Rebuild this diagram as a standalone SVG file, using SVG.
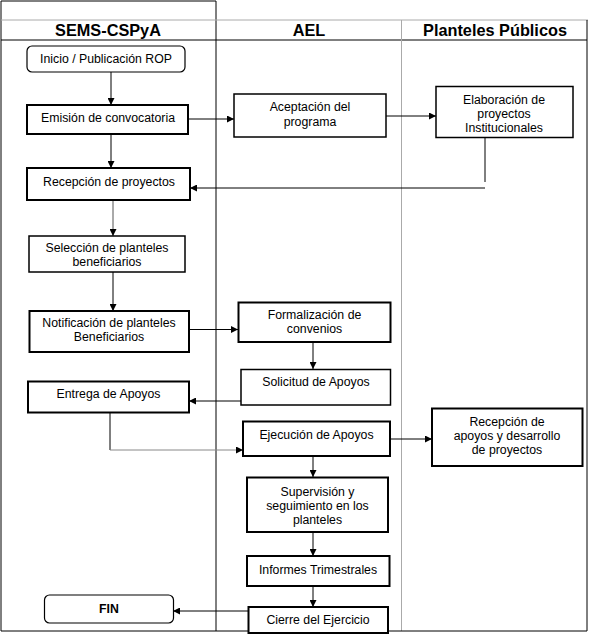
<svg xmlns="http://www.w3.org/2000/svg" width="589" height="636" viewBox="0 0 589 636">
<defs>
<style>
text{font-family:"Liberation Sans",Arial,sans-serif;font-size:12.3px;fill:#000;text-anchor:middle}
.hd{font-size:16.3px;font-weight:bold}
.fin{font-weight:bold}
.box{fill:#fff;stroke:#000}
.th{stroke-width:2}
.md{stroke-width:1.5}
.tn{stroke-width:1.2}
.c{fill:none;stroke:#000;stroke-width:1}
.g{stroke:#888}
.lane{fill:none;stroke:#000;stroke-width:1}
.lg{stroke:#aaa}
</style>
<marker id="ar" markerUnits="userSpaceOnUse" markerWidth="8" markerHeight="7" refX="7" refY="3.5" orient="auto">
<path d="M0,0 L7,3.5 L0,7 z" fill="#000"/>
</marker>
</defs>
<rect width="589" height="636" fill="#fff"/>
<g id="lanes">
<path class="lane" d="M1,631 V1 H216 V631"/>
<path class="lane lg" d="M1,20 H588" stroke-width="2"/>
<path class="lane" d="M1,40 H587"/>
<path class="lane lg" d="M401.5,20 V631"/>
<path class="lane" d="M587,20 V631 M1,631 H587"/>
<text class="hd" x="108" y="36">SEMS-CSPyA</text>
<text class="hd" x="309" y="36">AEL</text>
<text class="hd" x="495" y="36">Planteles Públicos</text>
</g>
<g id="connectors">
<path class="c" d="M111,72 V105" marker-end="url(#ar)"/>
<path class="c" d="M111,134 V168" marker-end="url(#ar)"/>
<path class="c" d="M188,119 H234" marker-end="url(#ar)"/>
<path class="c" d="M386,116 H436" marker-end="url(#ar)"/>
<path class="c" d="M485,137 V182"/>
<path class="c" d="M485,188 H190" marker-end="url(#ar)"/>
<path class="c" d="M113,200 V236" style="stroke:#555" marker-end="url(#ar)"/>
<path class="c" d="M113,272 V311" marker-end="url(#ar)"/>
<path class="c" d="M189,329.5 H238" marker-end="url(#ar)"/>
<path class="c" d="M313,342 V369" marker-end="url(#ar)"/>
<path class="c" d="M241,401 H189" marker-end="url(#ar)"/>
<path class="c" d="M110,413 V450"/>
<path class="c g" d="M110,450 H243" marker-end="url(#ar)"/>
<path class="c" d="M390,439 H432" marker-end="url(#ar)"/>
<path class="c" d="M313,456 V477" marker-end="url(#ar)"/>
<path class="c" d="M313,532 V556" marker-end="url(#ar)"/>
<path class="c" d="M313,586 V607" marker-end="url(#ar)"/>
<path class="c" d="M249,611 H173" marker-end="url(#ar)"/>
</g>
<g id="inicio">
<rect class="box tn" x="27" y="46" width="158" height="26" rx="5"/>
<text x="106" y="63">Inicio / Publicación ROP</text>
</g>
<g id="emision">
<rect class="box th" x="27" y="105" width="161" height="29"/>
<text x="108" y="122">Emisión de convocatoria</text>
</g>
<g id="recepcion">
<rect class="box th" x="27" y="168" width="163" height="32"/>
<text x="109" y="186">Recepción de proyectos</text>
</g>
<g id="aceptacion">
<rect class="box md" x="234" y="94" width="152" height="43"/>
<text x="310" y="111">Aceptación del</text>
<text x="310" y="126">programa</text>
</g>
<g id="elaboracion">
<rect class="box md" x="436" y="86.5" width="137" height="51"/>
<text x="504" y="104">Elaboración de</text>
<text x="504" y="118">proyectos</text>
<text x="504" y="132">Institucionales</text>
</g>
<g id="seleccion">
<rect class="box md" x="29" y="236" width="156" height="36"/>
<text x="107" y="252">Selección de planteles</text>
<text x="107" y="266">beneficiarios</text>
</g>
<g id="notificacion">
<rect class="box th" x="29.5" y="311" width="159.5" height="41"/>
<text x="109" y="327">Notificación de planteles</text>
<text x="109" y="341">Beneficiarios</text>
</g>
<g id="formalizacion">
<rect class="box th" x="238.5" y="302.5" width="152" height="39.5"/>
<text x="314.5" y="319">Formalización de</text>
<text x="314.5" y="333">convenios</text>
</g>
<g id="solicitud">
<rect class="box md" x="241" y="369.5" width="149.5" height="35.5"/>
<text x="316" y="386">Solicitud de Apoyos</text>
</g>
<g id="entrega">
<rect class="box th" x="28" y="381.5" width="161" height="31"/>
<text x="108.5" y="398">Entrega de Apoyos</text>
</g>
<g id="ejecucion">
<rect class="box th" x="243" y="421.5" width="147" height="34.5"/>
<text x="316.5" y="439">Ejecución de Apoyos</text>
</g>
<g id="recepcion-apoyos">
<rect class="box th" x="432" y="408.5" width="150.5" height="57.5"/>
<text x="507" y="426">Recepción de</text>
<text x="507" y="440">apoyos y desarrollo</text>
<text x="507" y="454">de proyectos</text>
</g>
<g id="supervision">
<rect class="box th" x="247" y="477.5" width="141" height="54.5"/>
<text x="317.5" y="496">Supervisión y</text>
<text x="317.5" y="510">seguimiento en los</text>
<text x="317.5" y="524">planteles</text>
</g>
<g id="informes">
<rect class="box th" x="247" y="556" width="142.5" height="30"/>
<text x="318" y="574">Informes Trimestrales</text>
</g>
<g id="fin">
<rect class="box tn" x="44.5" y="595" width="129" height="28" rx="5"/>
<text class="fin" x="109" y="613">FIN</text>
</g>
<g id="cierre">
<rect class="box th" x="248.5" y="607" width="139.5" height="26"/>
<text x="318" y="624">Cierre del Ejercicio</text>
</g>
</svg>
